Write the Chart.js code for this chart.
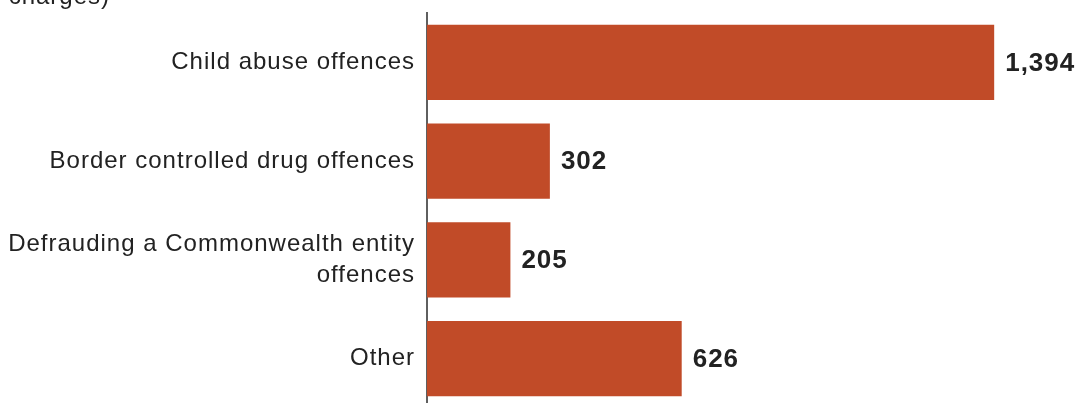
<!DOCTYPE html>
<html>
<head>
<meta charset="utf-8">
<script src="https://cdn.jsdelivr.net/npm/chart.js@4/dist/chart.umd.min.js"></script>
<style>
  html, body { margin: 0; padding: 0; background: #fff; overflow: hidden; }
  #wrap { position: relative; width: 1085px; height: 408px; }
  #unit { position: absolute; left: -300px; width: 410px; top: -16px; text-align: right;
          font: 24px "Liberation Sans", Arial, sans-serif; line-height: 24px; color: #222;
          letter-spacing: 1px; white-space: nowrap; }
  canvas { display: block; }
</style>
</head>
<body>
<div id="wrap">
  <canvas id="c" width="1085" height="408"></canvas>
  <div id="unit">(Number of charges)</div>
</div>
<script>
const categories = [
  "Child abuse offences",
  "Border controlled drug offences",
  ["Defrauding a Commonwealth entity", "offences"],
  "Other"
];
const charges = [1394, 302, 205, 626];
const valueLabels = ["1,394", "302", "205", "626"];

const FONT = '"Liberation Sans", Arial, sans-serif';

const spacingPlugin = {
  id: 'spacing',
  beforeDraw(chart) { chart.ctx.letterSpacing = '1px'; }
};

const valueLabelPlugin = {
  id: 'valueLabels',
  afterDatasetsDraw(chart) {
    const ctx = chart.ctx;
    const meta = chart.getDatasetMeta(0);
    ctx.save();
    ctx.letterSpacing = '1px';
    ctx.font = 'bold 26px ' + FONT;
    ctx.fillStyle = '#222222';
    ctx.textAlign = 'left';
    ctx.textBaseline = 'middle';
    meta.data.forEach((bar, i) => {
      ctx.fillText(valueLabels[i], bar.x + 11, bar.y + 1);
    });
    ctx.restore();
  }
};

new Chart(document.getElementById('c'), {
  type: 'bar',
  data: {
    labels: categories,
    datasets: [{
      data: charges,
      backgroundColor: '#C14B28',
      borderWidth: 0,
      barPercentage: 0.76,
      categoryPercentage: 1.0
    }]
  },
  options: {
    indexAxis: 'y',
    responsive: false,
    animation: false,
    events: [],
    layout: { padding: { top: 13, right: 7, bottom: 0, left: 0 } },
    plugins: { legend: { display: false }, tooltip: { enabled: false } },
    scales: {
      x: {
        display: false,
        min: 0,
        max: 1600
      },
      y: {
        afterFit(scale) { scale.width = 427; scale.paddingTop = 0; scale.paddingBottom = 0; },
        grid: { display: false, drawTicks: false },
        border: { display: true, color: '#5f5f5f', width: 2 },
        ticks: {
          padding: 12,
          color: '#222222',
          font: { family: FONT, size: 24, lineHeight: 1.33 }
        }
      }
    }
  },
  plugins: [spacingPlugin, valueLabelPlugin]
});
</script>
</body>
</html>
